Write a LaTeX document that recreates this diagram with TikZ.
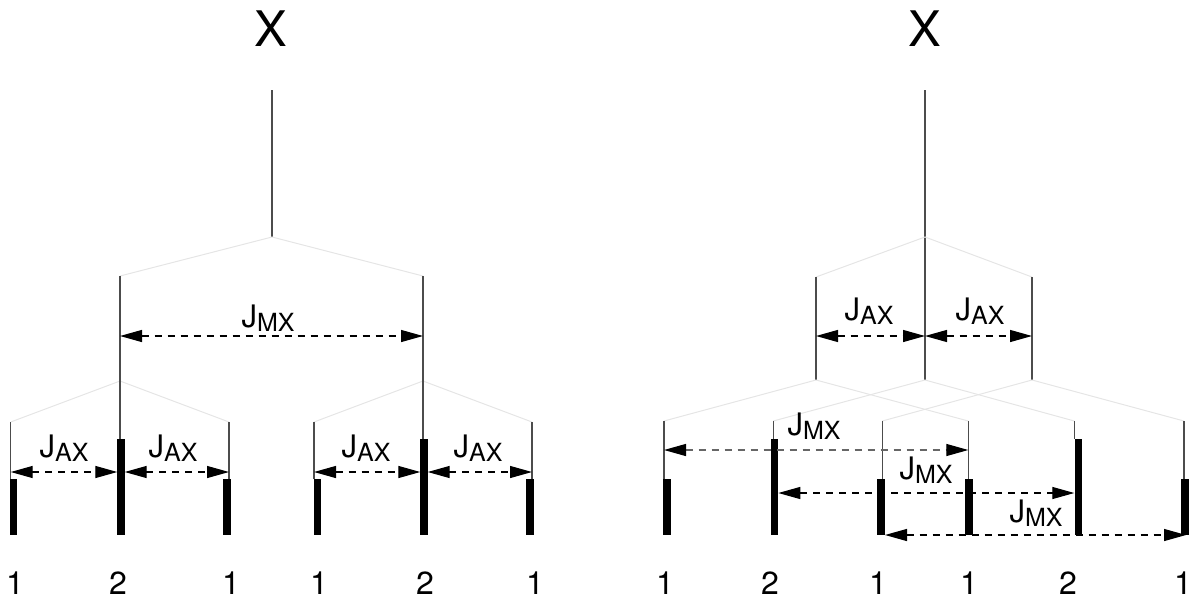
\documentclass[tikz,border=0pt]{standalone}
\usepackage{fontspec}
\setmainfont{TeX Gyre Heros}
\usetikzlibrary{arrows.meta}
\tikzset{
  thinline/.style={line width=1.2pt, draw=black!70},
  branch/.style={line width=1pt, draw=black!10},
  bar/.style={line width=7.5pt, draw=black},
  dim/.style={line width=1.2pt, draw=black, dash pattern=on 7pt off 6pt,
    {Triangle[length=22pt,width=12pt,color=black]}-{Triangle[length=22pt,width=12pt,color=black]}},
  lbl/.style={anchor=base, inner sep=0pt, font=\fontsize{31}{31}\selectfont},
  bigx/.style={anchor=base, inner sep=0pt, font=\fontsize{49}{49}\selectfont},
  num/.style={anchor=base, inner sep=0pt, font=\fontsize{32}{32}\selectfont},
}
\newcommand\jsub[1]{J\raisebox{-4pt}{\fontsize{25}{25}\selectfont #1}}
\begin{document}
\begin{tikzpicture}[x=1pt,y=-1pt]
\useasboundingbox (0,0) rectangle (1191,600);
% ---------------- left tree ----------------
\node[bigx] (LX) at (271,46.5) {X};
\coordinate (Ltop) at (272,90);
\coordinate (Lap) at (272,237);
\coordinate (La) at (120,276);
\coordinate (Lb) at (423,276);
\coordinate (Laa) at (120,381);
\coordinate (Lbb) at (423,381);
\draw[thinline] (Ltop) -- (Lap);
\draw[branch] (La) -- (Lap) -- (Lb);
\coordinate (L1t) at (10.7,422);
\coordinate (L3t) at (229,422);
\coordinate (L4t) at (314,422);
\coordinate (L6t) at (532,422);
\draw[branch] (L1t) -- (Laa) -- (L3t);
\draw[branch] (L4t) -- (Lbb) -- (L6t);
\coordinate (L2b) at (120,439);
\coordinate (L5b) at (423,439);
\coordinate (L1b) at (10.7,479);
\coordinate (L3b) at (229,479);
\coordinate (L4b) at (314,479);
\coordinate (L6b) at (532,479);
\draw[thinline] (La) -- (L2b);
\draw[thinline] (Lb) -- (L5b);
\draw[thinline] (L1t) -- (L1b);
\draw[thinline] (L3t) -- (L3b);
\draw[thinline] (L4t) -- (L4b);
\draw[thinline] (L6t) -- (L6b);
% bars
\draw[bar] (13.7,479) -- (13.7,535);
\draw[bar] (121,439) -- (121,535);
\draw[bar] (227,479) -- (227,535);
\draw[bar] (317.5,479) -- (317.5,535);
\draw[bar] (424,439) -- (424,535);
\draw[bar] (530,479) -- (530,535);
% arrows
\coordinate (LmA) at (120,336);
\coordinate (LmB) at (423,336);
\draw[dim] (LmA) -- (LmB);
\node[lbl] (LJmx) at (268,327) {\jsub{MX}};
\coordinate (A1a) at (10.7,472); \coordinate (A1b) at (117.3,472);
\coordinate (A2a) at (124.7,472); \coordinate (A2b) at (229,472);
\coordinate (A3a) at (314,472); \coordinate (A3b) at (420.3,472);
\coordinate (A4a) at (427.7,472); \coordinate (A4b) at (532,472);
\draw[dim] (A1a) -- (A1b);
\draw[dim] (A2a) -- (A2b);
\draw[dim] (A3a) -- (A3b);
\draw[dim] (A4a) -- (A4b);
\node[lbl] (LJ1) at (64,457) {\jsub{AX}};
\node[lbl] (LJ2) at (173,457) {\jsub{AX}};
\node[lbl] (LJ3) at (366,457) {\jsub{AX}};
\node[lbl] (LJ4) at (478,457) {\jsub{AX}};
% numbers
\node[num] (n1) at (15,594) {1};
\node[num] (n2) at (118,594) {2};
\node[num] (n3) at (231,594) {1};
\node[num] (n4) at (319,594) {1};
\node[num] (n5) at (425,594) {2};
\node[num] (n6) at (535,594) {1};
% ---------------- right tree ----------------
\node[bigx] (RX) at (925,46.5) {X};
\coordinate (Rtop) at (925,90);
\coordinate (Rap) at (925,237);
\coordinate (Rmid) at (925,380);
\coordinate (Ra) at (816,277);
\coordinate (Rb) at (1032,277);
\coordinate (Raa) at (816,380);
\coordinate (Rbb) at (1032,380);
\draw[thinline] (Rtop) -- (Rmid);
\draw[branch] (Ra) -- (Rap) -- (Rb);
\draw[thinline] (Ra) -- (Raa);
\draw[thinline] (Rb) -- (Rbb);
\coordinate (R1t) at (664,421);
\coordinate (R2t) at (773.3,421);
\coordinate (R3t) at (882.3,421);
\coordinate (R4t) at (968.3,421);
\coordinate (R5t) at (1074.3,421);
\coordinate (R6t) at (1184,421);
\draw[branch] (R1t) -- (Raa) -- (R4t);
\draw[branch] (R2t) -- (Rmid) -- (R5t);
\draw[branch] (R3t) -- (Rbb) -- (R6t);
\draw[thinline] (R1t) -- (664,479);
\draw[thinline] (R2t) -- (773.3,439);
\draw[thinline] (R3t) -- (882.3,479);
\draw[thinline] (R4t) -- (968.3,479);
\draw[thinline] (R5t) -- (1074.3,439);
\draw[thinline] (R6t) -- (1184,479);
\draw[bar] (667,479) -- (667,535);
\draw[bar] (774.5,439) -- (774.5,535);
\draw[bar] (881,479) -- (881,535);
\draw[bar] (969,479) -- (969,535);
\draw[bar] (1078.5,439) -- (1078.5,535);
\draw[bar] (1185,479) -- (1185,535);
% arrows
\coordinate (B1a) at (816,336); \coordinate (B1b) at (925,336);
\coordinate (B2a) at (925,336); \coordinate (B2b) at (1032,336);
\draw[dim] (B1a) -- (B1b);
\draw[dim] (B2a) -- (B2b);
\node[lbl] (RJ1) at (869,320) {\jsub{AX}};
\node[lbl] (RJ2) at (980,320) {\jsub{AX}};
\coordinate (M1a) at (664,450); \coordinate (M1b) at (968.3,450);
\coordinate (M2a) at (778.3,493); \coordinate (M2b) at (1074.3,493);
\coordinate (M3a) at (885,535); \coordinate (M3b) at (1186,535);
\draw[dim, draw=black!60] (M1a) -- (M1b);
\draw[dim] (M2a) -- (M2b);
\draw[dim] (M3a) -- (M3b);
\node[lbl] (RM1) at (814,435) {\jsub{MX}};
\node[lbl] (RM2) at (926,479) {\jsub{MX}};
\node[lbl] (RM3) at (1036,522) {\jsub{MX}};
% numbers
\node[num] (m1) at (665,594) {1};
\node[num] (m2) at (770,594) {2};
\node[num] (m3) at (878,594) {1};
\node[num] (m4) at (969,594) {1};
\node[num] (m5) at (1068,594) {2};
\node[num] (m6) at (1183,594) {1};
\end{tikzpicture}
\end{document}
